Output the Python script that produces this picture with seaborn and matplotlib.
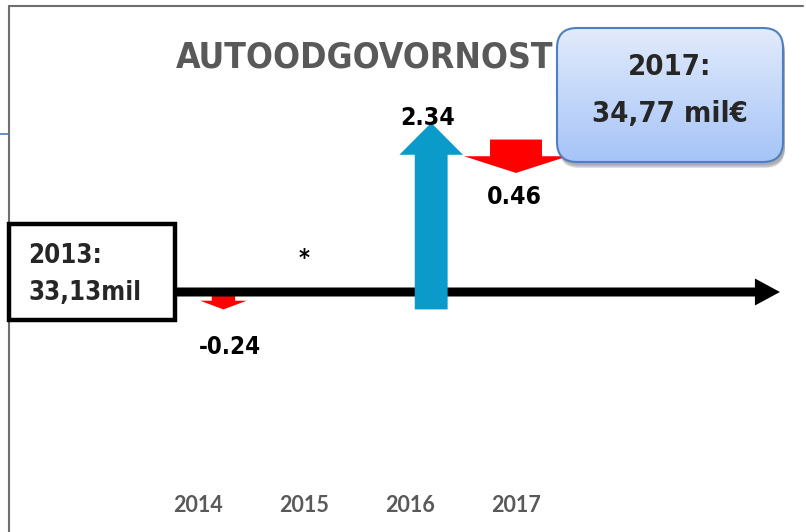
import numpy as np
import pandas as pd
import matplotlib
matplotlib.use('Agg')
import matplotlib.pyplot as plt
import matplotlib.patches as mpatches
import matplotlib.transforms as mtransforms
from matplotlib import font_manager
import seaborn as sns

# data
years = ['2014', '2015', '2016', '2017']
changes = [-0.24, 0.0, 2.34, -0.46]
change_labels = ['-0.24', '*', '2.34', '0.46']
start_label = '2013:\n33,13mil'
end_label = '2017:\n34,77 mil€'
title = 'AUTOODGOVORNOST'

df = pd.DataFrame({'year': years, 'change': changes, 'label': change_labels})
df['start'] = df['change'].cumsum() - df['change']
df['end'] = df['change'].cumsum()

# arrow styling (per year)
arrow_shift = [0.24, 0.0, 0.2, 0.0]
arrow_width = [0.22, 0.0, 0.31, 0.49]
head_width = [0.44, 0.0, 0.60, 0.98]
head_len = [0.12, 0.0, 0.44, 0.23]
tip_extra = [0.0, 0.0, 0.23, 0.0]
label_dx = [0.06, 0.0, -0.03, -0.02]
label_dy = [-0.52, 0.70, 0.07, -0.33]
label_w = [62, 11, 55, 55]  # target widths in px

sns.set_theme(style='white')
plt.rcParams['font.family'] = ['Liberation Sans', 'DejaVu Sans']

# look for a narrow bold face, else fall back to Liberation Sans bold
narrow_fp = None
for f in font_manager.fontManager.ttflist:
    n = (f.name + ' ' + f.fname).lower()
    if ('narrow' in n or 'condensed' in n) and f.weight in ('bold', 700, 'heavy') and 'oblique' not in n and 'italic' not in n:
        narrow_fp = font_manager.FontProperties(fname=f.fname)
        break
if narrow_fp is None:
    narrow_fp = font_manager.FontProperties(family='Liberation Sans', weight='bold')

fig = plt.figure(figsize=(8.06, 5.32), dpi=100)
ax = fig.add_axes([0, 0, 1, 1])
# x: 106 px per year, y: 72.6 px per mil
ax.set_xlim(-198 / 106, (806 - 198) / 106)
ax.set_ylim(-(532 - 292) / 72.6, 292 / 72.6)
ax.axis('off')
renderer = fig.canvas.get_renderer()


def fit(t, width):
    # scale a text so it spans the given pixel width
    for _ in range(2):
        w = t.get_window_extent(renderer).width
        t.set_fontsize(t.get_fontsize() * width / w)


def ntext(*args, **kw):
    fp = narrow_fp.copy()
    fp.set_size(kw.pop('fontsize', 20))
    return ax.text(*args, fontproperties=fp, **kw)


# pixel transform (top-left origin) for decorations
pix = mtransforms.Affine2D().scale(1 / 100, -1 / 100).translate(0, 5.32) + fig.dpi_scale_trans

# slide frame
ax.add_line(plt.Line2D([9, 9], [6, 532], color='#6e6e6e', lw=1.5, transform=pix))
ax.add_line(plt.Line2D([9, 803], [6, 6], color='#6e6e6e', lw=1.5, transform=pix))
ax.add_line(plt.Line2D([0, 9], [134, 134], color='#4a7cc4', lw=1.2, transform=pix))

# title
tt = ntext(365, 57, title, transform=pix, ha='center', va='center',
           fontsize=29, color='#595959')
fit(tt, 378)

# horizontal axis arrow
x0 = -23 / 106
ax.add_patch(mpatches.FancyArrow(x0, 0, 5.49 - x0, 0, width=0.124, head_width=0.372,
                                 head_length=0.236, length_includes_head=True,
                                 color='black', lw=0, zorder=3))

# change arrows
for i, row in df.iterrows():
    if row['change'] == 0:
        continue
    up = row['change'] > 0
    color = '#0A9BCB' if up else '#FF0000'
    dy = row['change'] + (tip_extra[i] if up else -tip_extra[i])
    ax.add_patch(mpatches.FancyArrow(i + arrow_shift[i], row['start'], 0, dy,
                                     width=arrow_width[i], head_width=head_width[i],
                                     head_length=head_len[i], length_includes_head=True,
                                     color=color, lw=0, zorder=4 if up else 2))

# value labels
for i, row in df.iterrows():
    ref = row['end'] + tip_extra[i] if row['change'] > 0 else row['end']
    t = ntext(i + arrow_shift[i] + label_dx[i], ref + label_dy[i], row['label'],
              ha='center', va='center', fontsize=20, color='black', zorder=5)
    fit(t, label_w[i])

# year labels
for i, y in enumerate(years):
    ax.text(i, -(505 - 292) / 72.6, y, ha='center', va='center', fontsize=15.5,
            fontweight='bold', color='#595959', family=['Lato', 'DejaVu Sans'])

# start box
ax.add_patch(mpatches.Rectangle((9, 224), 166, 96, transform=pix, facecolor='white',
                                edgecolor='black', lw=3.2, zorder=6))
l1, l2 = start_label.split('\n')
t1 = ntext(28, 256, l1, transform=pix, ha='left', va='center', fontsize=23, zorder=7)
t2 = ntext(28, 293, l2, transform=pix, ha='left', va='center', fontsize=23, zorder=7)
fit(t2, 112)
t1.set_fontsize(t2.get_fontsize())

# end box with shadow and gradient
for k, a in enumerate([0.06, 0.08, 0.10, 0.12]):
    sh = mpatches.FancyBboxPatch((557 + 2, 28 + 3 + k), 226, 134,
                                 boxstyle='round,pad=0,rounding_size=20', transform=pix,
                                 facecolor='black', edgecolor='none', alpha=a, zorder=6)
    ax.add_patch(sh)
box = mpatches.FancyBboxPatch((557, 28), 226, 134, boxstyle='round,pad=0,rounding_size=20',
                              transform=pix, facecolor='none', edgecolor='#4F7FC0',
                              lw=1.5, zorder=8)
ax.add_patch(box)
grad = np.linspace(0, 1, 256).reshape(-1, 1)
cmap = matplotlib.colors.LinearSegmentedColormap.from_list('g', ['#E2EBFB', '#A6C4F8'])
xl, yl = ax.get_xlim(), ax.get_ylim()
bx0, by0 = (557 - 198) / 106, (292 - 162) / 72.6
bx1, by1 = (783 - 198) / 106, (292 - 28) / 72.6
im = ax.imshow(grad, cmap=cmap, aspect='auto', extent=[bx0, bx1, by0, by1], zorder=7)
im.set_clip_path(box)
ax.set_xlim(xl)
ax.set_ylim(yl)
e1, e2 = end_label.split('\n')
u1 = ntext(670, 67, e1, transform=pix, ha='center', va='center', fontsize=25, zorder=9)
u2 = ntext(670, 114, e2, transform=pix, ha='center', va='center', fontsize=25, zorder=9)
fit(u2, 156)
u1.set_fontsize(u2.get_fontsize())

fig.savefig('out.png', dpi=100)
